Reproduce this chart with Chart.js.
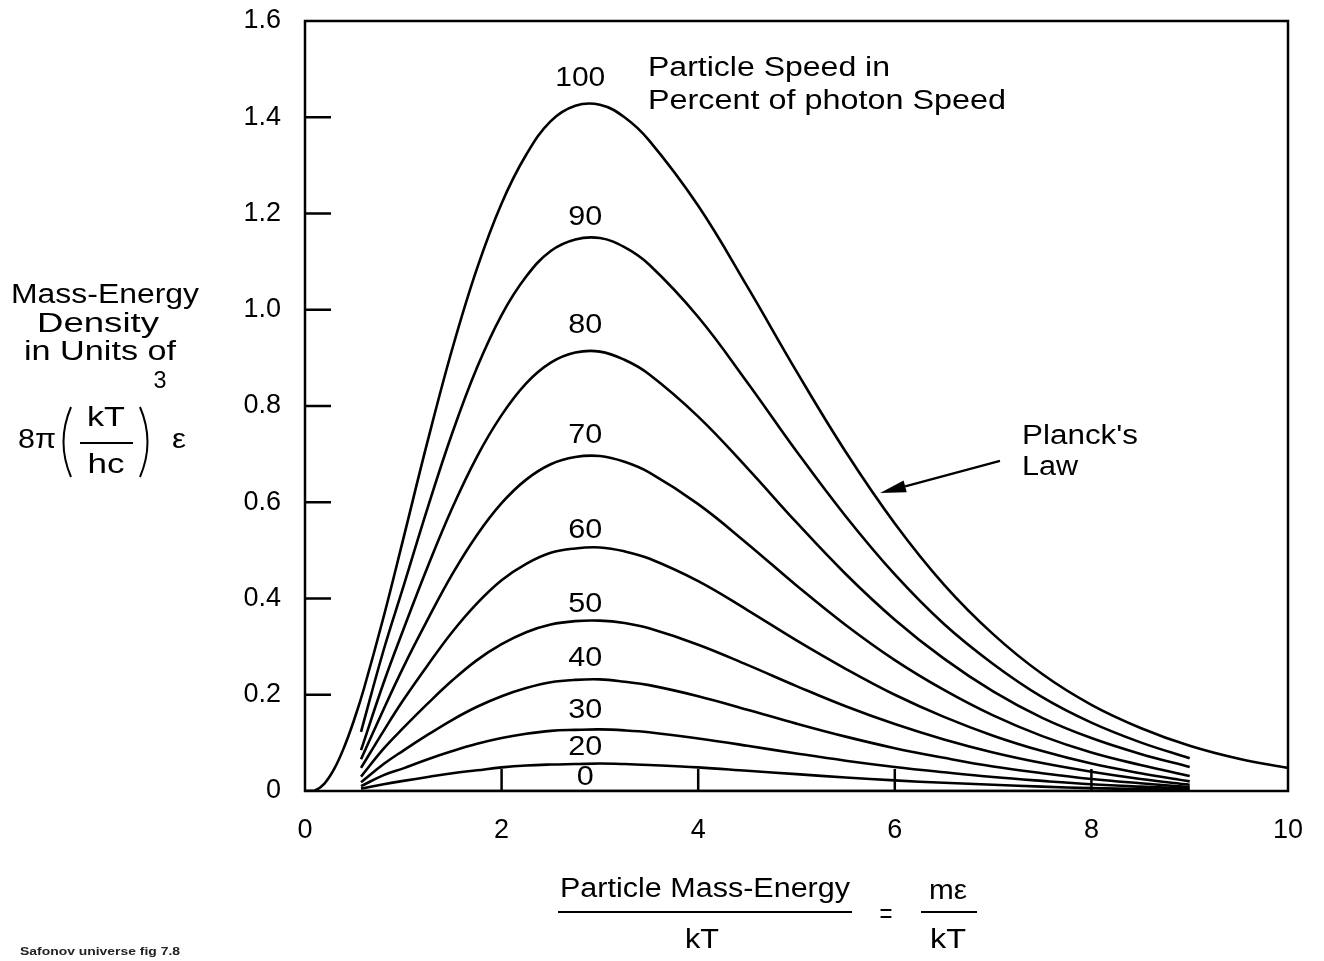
<!DOCTYPE html>
<html>
<head>
<meta charset="utf-8">
<title>Mass-Energy Density vs Particle Mass-Energy</title>
<script src="https://cdn.jsdelivr.net/npm/chart.js@4.4.1/dist/chart.umd.min.js"></script>
<style>
  html, body { margin: 0; padding: 0; background: #fff; }
  canvas { display: block; }
</style>
</head>
<body>
<canvas id="planckChart" width="1324" height="961"></canvas>
<script>
// Planck's law curve (100 % of photon speed)
const planckX = [0, 0.1, 0.2, 0.3, 0.4, 0.5, 0.6, 0.8, 1.0, 1.25, 1.5, 1.75, 2.0, 2.25, 2.5, 2.75, 3.0, 3.25, 3.5, 4.0, 4.5, 5.0, 5.5, 6.0, 6.5, 7.0, 7.5, 8.0, 8.5, 9.0, 9.5, 10];
const planckY = [0, 0.001, 0.016, 0.047, 0.092, 0.148, 0.213, 0.362, 0.524, 0.729, 0.920, 1.086, 1.221, 1.322, 1.392, 1.424, 1.426, 1.400, 1.352, 1.216, 1.048, 0.872, 0.705, 0.556, 0.429, 0.326, 0.243, 0.179, 0.131, 0.094, 0.067, 0.048];

// slower particles: curves drawn from 0.57 to 9
const speedX = [0.57, 0.8, 1.0, 1.25, 1.5, 1.75, 2.0, 2.25, 2.5, 2.75, 3.0, 3.25, 3.5, 4.0, 4.5, 5.0, 5.5, 6.0, 6.5, 7.0, 7.5, 8.0, 8.5, 9.0];
const speed90 = [0.123, 0.293, 0.424, 0.590, 0.745, 0.880, 0.989, 1.069, 1.122, 1.146, 1.149, 1.130, 1.094, 0.985, 0.849, 0.706, 0.571, 0.450, 0.347, 0.264, 0.195, 0.142, 0.101, 0.068];
const speed80 = [0.085, 0.225, 0.335, 0.467, 0.589, 0.695, 0.781, 0.847, 0.890, 0.911, 0.913, 0.896, 0.866, 0.778, 0.671, 0.558, 0.451, 0.356, 0.275, 0.207, 0.152, 0.110, 0.077, 0.050];
const speed70 = [0.066, 0.170, 0.257, 0.357, 0.451, 0.532, 0.598, 0.647, 0.679, 0.694, 0.696, 0.684, 0.662, 0.596, 0.514, 0.427, 0.345, 0.272, 0.210, 0.157, 0.114, 0.080, 0.054, 0.031];
const speed60 = [0.048, 0.125, 0.189, 0.262, 0.331, 0.390, 0.438, 0.472, 0.495, 0.504, 0.506, 0.498, 0.483, 0.436, 0.376, 0.313, 0.254, 0.200, 0.154, 0.115, 0.083, 0.057, 0.037, 0.020];
const speed50 = [0.030, 0.088, 0.131, 0.182, 0.230, 0.272, 0.305, 0.330, 0.346, 0.353, 0.354, 0.349, 0.338, 0.304, 0.262, 0.218, 0.176, 0.139, 0.107, 0.080, 0.058, 0.040, 0.025, 0.013];
const speed40 = [0.018, 0.056, 0.084, 0.117, 0.148, 0.175, 0.197, 0.214, 0.226, 0.231, 0.232, 0.227, 0.220, 0.197, 0.169, 0.140, 0.113, 0.089, 0.069, 0.051, 0.037, 0.025, 0.016, 0.008];
const speed30 = [0.010, 0.033, 0.047, 0.066, 0.083, 0.098, 0.110, 0.119, 0.125, 0.127, 0.128, 0.126, 0.122, 0.109, 0.094, 0.078, 0.063, 0.050, 0.039, 0.029, 0.021, 0.014, 0.009, 0.005];
const speed20 = [0.005, 0.014, 0.021, 0.029, 0.037, 0.043, 0.049, 0.053, 0.055, 0.056, 0.057, 0.056, 0.054, 0.049, 0.042, 0.035, 0.028, 0.022, 0.017, 0.013, 0.009, 0.006, 0.004, 0.002];
const speed0  = [0, 0, 0, 0, 0, 0, 0, 0, 0, 0, 0, 0, 0, 0, 0, 0, 0, 0, 0, 0, 0, 0, 0, 0];

const speedLabels = ['100', '90', '80', '70', '60', '50', '40', '30', '20', '0'];

const xTickValues = [0, 2, 4, 6, 8, 10];
const xTickLabels = ['0', '2', '4', '6', '8', '10'];
const yTickValues = [0, 0.2, 0.4, 0.6, 0.8, 1.0, 1.2, 1.4, 1.6];
const yTickLabels = ['0', '0.2', '0.4', '0.6', '0.8', '1.0', '1.2', '1.4', '1.6'];

const FONT = '"Liberation Sans", Arial, Helvetica, sans-serif';

function points(xs, ys) {
    return xs.map((x, i) => ({ x: x, y: ys[i] }));
}

// text squeezed/stretched to the width it has in the scan
function drawText(ctx, str, x, y, font, width, align) {
    ctx.font = font + ' ' + FONT;
    const natural = ctx.measureText(str).width;
    const k = width ? width / natural : 1;
    ctx.save();
    ctx.translate(x, y);
    ctx.scale(k, 1);
    ctx.textAlign = align || 'center';
    ctx.textBaseline = 'middle';
    ctx.fillText(str, 0, 0);
    ctx.restore();
}

const allSeries = [planckY, speed90, speed80, speed70, speed60, speed50, speed40, speed30, speed20, speed0];

const annotations = {
    id: 'annotations',
    afterDraw(chart) {
        const { ctx, chartArea: area, scales: { x, y } } = chart;
        ctx.save();
        ctx.fillStyle = '#000';
        ctx.strokeStyle = '#000';

        // frame
        ctx.lineWidth = 2.5;
        ctx.strokeRect(area.left, area.top, area.right - area.left, area.bottom - area.top);

        // tick marks pointing inward
        ctx.beginPath();
        yTickValues.slice(1, -1).forEach(v => {
            const py = y.getPixelForValue(v);
            ctx.moveTo(area.left, py);
            ctx.lineTo(area.left + 26, py);
        });
        xTickValues.slice(1, -1).forEach(v => {
            const px = x.getPixelForValue(v);
            ctx.moveTo(px, area.bottom);
            ctx.lineTo(px, area.bottom - 22);
        });
        ctx.stroke();

        // speed labels above each peak
        const lifts = [26, 20, 26, 21, 17, 16, 21, 19, 16, 13];
        speedLabels.forEach((lab, i) => {
            const peak = Math.max(...allSeries[i]);
            const px = x.getPixelForValue(i === 0 ? 2.8 : 2.85);
            const py = y.getPixelForValue(peak) - lifts[i];
            const w = lab.length === 3 ? 50 : (lab.length === 2 ? 34 : 17);
            drawText(ctx, lab, px, py, '27px', w, 'center');
        });

        drawText(ctx, 'Particle Speed in', 648, 69, '27px', 242, 'left');
        drawText(ctx, 'Percent of photon Speed', 648, 102, '27px', 358, 'left');
        drawText(ctx, "Planck's", 1022, 437, '27px', 116, 'left');
        drawText(ctx, 'Law', 1022, 468, '27px', 56, 'left');

        // arrow pointing at Planck's curve
        const tx = x.getPixelForValue(5.85), ty = y.getPixelForValue(0.619);
        const sx = x.getPixelForValue(7.07), sy = y.getPixelForValue(0.686);
        const len = Math.hypot(tx - sx, ty - sy);
        const ux = (tx - sx) / len, uy = (ty - sy) / len;
        const bx = tx - ux * 26, by = ty - uy * 26;
        ctx.lineWidth = 2.2;
        ctx.beginPath();
        ctx.moveTo(sx, sy);
        ctx.lineTo(bx, by);
        ctx.stroke();
        ctx.beginPath();
        ctx.moveTo(tx, ty);
        ctx.lineTo(bx - uy * 6, by + ux * 6);
        ctx.lineTo(bx + uy * 6, by - ux * 6);
        ctx.closePath();
        ctx.fill();

        // y axis title
        drawText(ctx, 'Mass-Energy', 105, 296, '27px', 188, 'center');
        drawText(ctx, 'Density', 98, 325, '27px', 122, 'center');
        drawText(ctx, 'in Units of', 100, 353, '27px', 152, 'center');
        drawText(ctx, '8\u03C0', 37, 441, '27px', 38, 'center');
        drawText(ctx, 'kT', 106, 419, '27px', 38, 'center');
        drawText(ctx, 'hc', 106, 466, '27px', 37, 'center');
        drawText(ctx, '3', 160, 381, '24px', 13, 'center');
        drawText(ctx, '\u03B5', 179, 441, '27px', 14, 'center');
        ctx.lineWidth = 2;
        ctx.beginPath();
        ctx.moveTo(80, 443); ctx.lineTo(133, 443);
        ctx.moveTo(71, 407); ctx.quadraticCurveTo(56, 442, 71, 477);
        ctx.moveTo(140, 407); ctx.quadraticCurveTo(155, 442, 140, 477);
        ctx.stroke();

        // x axis title
        drawText(ctx, 'Particle Mass-Energy', 705, 890, '27px', 290, 'center');
        drawText(ctx, 'kT', 702, 941, '27px', 34, 'center');
        drawText(ctx, '=', 886, 916, '27px', 13, 'center');
        drawText(ctx, 'm\u03B5', 948, 892, '27px', 38, 'center');
        drawText(ctx, 'kT', 948, 941, '27px', 36, 'center');
        ctx.beginPath();
        ctx.moveTo(558, 912); ctx.lineTo(852, 912);
        ctx.moveTo(921, 912); ctx.lineTo(977, 912);
        ctx.stroke();

        // scan caption
        ctx.fillStyle = '#222';
        drawText(ctx, 'Safonov universe fig 7.8', 20, 952, 'bold 10px', 160, 'left');
        ctx.restore();
    }
};

const datasets = [
    { label: '100', data: points(planckX, planckY) },
    { label: '90', data: points(speedX, speed90) },
    { label: '80', data: points(speedX, speed80) },
    { label: '70', data: points(speedX, speed70) },
    { label: '60', data: points(speedX, speed60) },
    { label: '50', data: points(speedX, speed50) },
    { label: '40', data: points(speedX, speed40) },
    { label: '30', data: points(speedX, speed30) },
    { label: '20', data: points(speedX, speed20) },
    { label: '0', data: points(speedX, speed0) }
];

const tickFont = { family: FONT, size: 27 };

new Chart(document.getElementById('planckChart'), {
    type: 'line',
    data: { datasets: datasets },
    options: {
        responsive: false,
        animation: false,
        events: [],
        layout: { padding: { top: 21, right: 36, left: 0, bottom: 0 } },
        plugins: { legend: { display: false }, tooltip: { enabled: false } },
        elements: {
            point: { radius: 0 },
            line: { borderColor: '#000', borderWidth: 2.6, tension: 0.4, fill: false }
        },
        scales: {
            x: {
                type: 'linear',
                min: 0,
                max: 10,
                afterFit: s => { s.height = 170; s.paddingLeft = 0; s.paddingRight = 0; },
                afterBuildTicks: s => { s.ticks = xTickValues.map(v => ({ value: v })); },
                grid: { display: false, drawTicks: false },
                border: { display: false },
                ticks: {
                    font: tickFont,
                    color: '#000',
                    padding: 23,
                    maxRotation: 0,
                    autoSkip: false,
                    callback: (v, i) => xTickLabels[i]
                }
            },
            y: {
                type: 'linear',
                min: 0,
                max: 1.6,
                afterFit: s => { s.width = 305; s.paddingTop = 0; s.paddingBottom = 0; },
                afterBuildTicks: s => { s.ticks = yTickValues.map(v => ({ value: v })); },
                grid: { display: false, drawTicks: false },
                border: { display: false },
                ticks: {
                    font: tickFont,
                    color: '#000',
                    padding: 24,
                    autoSkip: false,
                    callback: (v, i) => yTickLabels[i]
                }
            }
        }
    },
    plugins: [annotations]
});
</script>
</body>
</html>
